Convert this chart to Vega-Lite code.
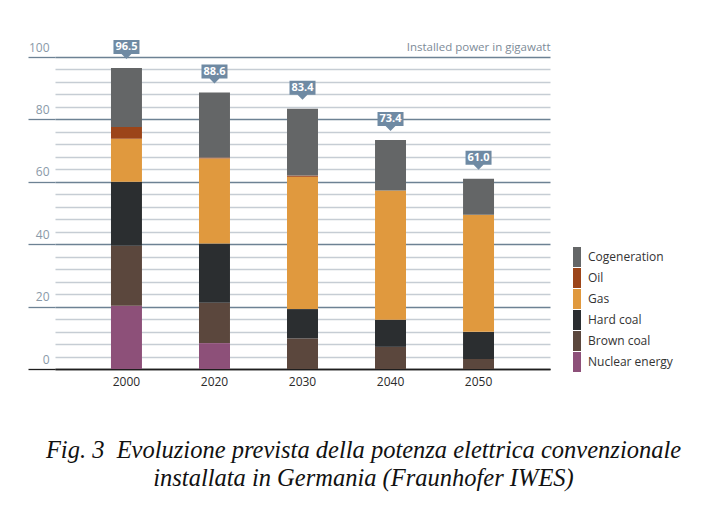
{
  "$schema": "https://vega.github.io/schema/vega-lite/v6.json",
  "width": 495,
  "height": 312,
  "autosize": {"type": "none"},
  "padding": {"left": 55, "top": 57, "right": 159, "bottom": 139},
  "background": "white",
  "config": {"view": {"stroke": null}, "font": "Open Sans"},
  "title": {
    "text": ["Fig. 3\u00a0 Evoluzione prevista della potenza elettrica convenzionale", "installata in Germania (Fraunhofer IWES)"],
    "orient": "bottom",
    "anchor": "middle",
    "dx": 61,
    "offset": 52,
    "font": "Liberation Serif",
    "fontStyle": "italic",
    "fontWeight": "normal",
    "fontSize": 24.5,
    "lineHeight": 28,
    "color": "#111111"
  },
  "datasets": {
    "power": [
      {"year": "2000", "source": "Nuclear energy", "layer": 1, "gigawatt": 20.3},
      {"year": "2000", "source": "Brown coal", "layer": 2, "gigawatt": 19.2},
      {"year": "2000", "source": "Hard coal", "layer": 3, "gigawatt": 20.5},
      {"year": "2000", "source": "Gas", "layer": 4, "gigawatt": 13.8},
      {"year": "2000", "source": "Oil", "layer": 5, "gigawatt": 3.8},
      {"year": "2000", "source": "Cogeneration", "layer": 6, "gigawatt": 18.9},
      {"year": "2020", "source": "Nuclear energy", "layer": 1, "gigawatt": 8.3},
      {"year": "2020", "source": "Brown coal", "layer": 2, "gigawatt": 12.9},
      {"year": "2020", "source": "Hard coal", "layer": 3, "gigawatt": 19.0},
      {"year": "2020", "source": "Gas", "layer": 4, "gigawatt": 27.3},
      {"year": "2020", "source": "Oil", "layer": 5, "gigawatt": 0.3},
      {"year": "2020", "source": "Cogeneration", "layer": 6, "gigawatt": 20.8},
      {"year": "2030", "source": "Brown coal", "layer": 2, "gigawatt": 9.8},
      {"year": "2030", "source": "Hard coal", "layer": 3, "gigawatt": 9.4},
      {"year": "2030", "source": "Gas", "layer": 4, "gigawatt": 42.4},
      {"year": "2030", "source": "Oil", "layer": 5, "gigawatt": 0.4},
      {"year": "2030", "source": "Cogeneration", "layer": 6, "gigawatt": 21.4},
      {"year": "2040", "source": "Brown coal", "layer": 2, "gigawatt": 7.1},
      {"year": "2040", "source": "Hard coal", "layer": 3, "gigawatt": 8.7},
      {"year": "2040", "source": "Gas", "layer": 4, "gigawatt": 41.4},
      {"year": "2040", "source": "Cogeneration", "layer": 6, "gigawatt": 16.2},
      {"year": "2050", "source": "Brown coal", "layer": 2, "gigawatt": 3.2},
      {"year": "2050", "source": "Hard coal", "layer": 3, "gigawatt": 8.7},
      {"year": "2050", "source": "Gas", "layer": 4, "gigawatt": 37.5},
      {"year": "2050", "source": "Cogeneration", "layer": 6, "gigawatt": 11.6}
    ],
    "totals": [
      {"year": "2000", "total": 96.5},
      {"year": "2020", "total": 88.6},
      {"year": "2030", "total": 83.4},
      {"year": "2040", "total": 73.4},
      {"year": "2050", "total": 61.0}
    ]
  },
  "layer": [
    {
      "data": {"name": "power"},
      "mark": {"type": "bar"},
      "encoding": {
        "x": {
          "field": "year",
          "type": "nominal",
          "scale": {"paddingInner": 0.648, "paddingOuter": 0.636},
          "axis": {
            "title": null,
            "labelAngle": 0,
            "ticks": false,
            "domain": true,
            "domainColor": "#1e1e1e",
            "domainWidth": 1.5,
            "labelPadding": 7,
            "labelFont": "Open Sans",
            "labelFontSize": 12,
            "labelColor": "#2a2a2a"
          }
        },
        "y": {
          "field": "gigawatt",
          "type": "quantitative",
          "stack": "zero",
          "scale": {"domain": [0, 100], "nice": false},
          "axis": {
            "values": [0, 4, 8, 12, 16, 20, 24, 28, 32, 36, 40, 44, 48, 52, 56, 60, 64, 68, 72, 76, 80, 84, 88, 92, 96, 100],
            "tickCount": 100,
            "title": "Installed power in gigawatt",
            "titleAngle": 0,
            "titleAlign": "right",
            "titleBaseline": "alphabetic",
            "titleX": 495,
            "titleY": -7,
            "titleFont": "Open Sans",
            "titleFontSize": 11.5,
            "titleFontWeight": "normal",
            "titleColor": "#7d8b98",
            "grid": true,
            "gridColor": {"condition": [{"test": "datum.value === 0", "value": "#1e1e1e"}, {"test": "datum.value % 20 === 0", "value": "#6d8294"}], "value": "#c6cdd4"},
            "gridWidth": {"condition": {"test": "datum.value % 20 === 0", "value": 1.3}, "value": 1.4},
            "domain": false,
            "ticks": true,
            "tickSize": 27,
            "tickWidth": 1.3,
            "tickColor": {"condition": [{"test": "datum.value === 0", "value": "#1e1e1e"}, {"test": "datum.value % 20 === 0", "value": "#6d8294"}], "value": "transparent"},
            "labelExpr": "datum.value % 20 === 0 ? datum.label : ''",
            "labelOverlap": false,
            "labelAlign": "right",
            "labelBaseline": "alphabetic",
            "labelOffset": -6,
            "labelPadding": -21,
            "labelFont": "Open Sans",
            "labelFontSize": 12,
            "labelColor": "#8a99a8"
          }
        },
        "color": {
          "field": "source",
          "type": "nominal",
          "scale": {
            "domain": ["Cogeneration", "Oil", "Gas", "Hard coal", "Brown coal", "Nuclear energy"],
            "range": ["#646667", "#9c4519", "#e0993e", "#2b2e30", "#5b473d", "#8d5079"]
          },
          "legend": {
            "orient": "none",
            "legendX": 518,
            "legendY": 190,
            "title": null,
            "padding": 0,
            "symbolType": "M-1,-1H-0.2V1H-1Z",
            "symbolSize": 400,
            "symbolStrokeWidth": 0,
            "symbolOpacity": 1,
            "rowPadding": 1,
            "labelOffset": -5,
            "labelFont": "Open Sans",
            "labelFontSize": 12,
            "labelColor": "#333333"
          }
        },
        "order": {"field": "layer", "type": "quantitative"}
      }
    },
    {
      "data": {"name": "totals"},
      "mark": {
        "type": "point",
        "shape": "M-1,-0.73H1V0.35H0.38L0,0.73L-0.38,0.35H-1Z",
        "size": 676,
        "filled": true,
        "fill": "#6f8aa3",
        "opacity": 1,
        "strokeWidth": 0,
        "yOffset": -18.5
      },
      "encoding": {
        "x": {"field": "year", "type": "nominal"},
        "y": {"field": "total", "type": "quantitative"}
      }
    },
    {
      "data": {"name": "totals"},
      "mark": {
        "type": "text",
        "color": "white",
        "font": "Open Sans",
        "fontWeight": "bold",
        "fontSize": 11,
        "baseline": "middle",
        "yOffset": -21
      },
      "encoding": {
        "x": {"field": "year", "type": "nominal"},
        "y": {"field": "total", "type": "quantitative"},
        "text": {"field": "total", "type": "quantitative", "format": ".1f"}
      }
    }
  ]
}
